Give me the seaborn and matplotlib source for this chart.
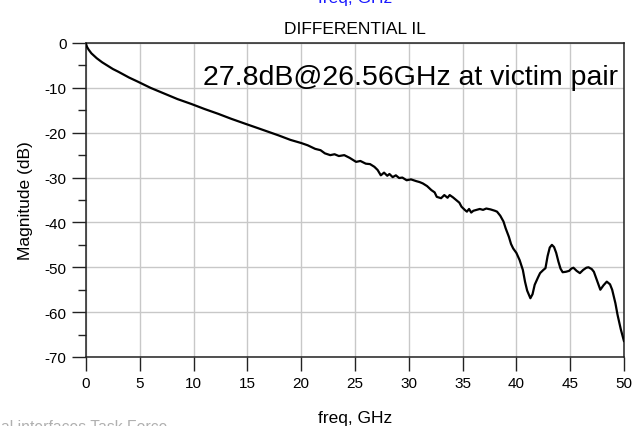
import matplotlib
matplotlib.use("Agg")
import matplotlib.pyplot as plt
import seaborn as sns
import pandas as pd
from matplotlib.ticker import MultipleLocator

freq_ghz = [0, 0.1, 0.25, 0.5, 1, 1.5, 2.5, 3, 4, 4.8, 6, 7.3, 8.5, 9.8, 11, 12.3,
            13.5, 14.8, 16, 17.9, 19, 20, 20.6, 21.3, 21.8, 22.2, 22.7, 23.1, 23.5,
            24, 24.5, 25.1, 25.5, 26, 26.4, 26.8, 27.1, 27.4, 27.7, 28.0, 28.2, 28.5,
            28.8, 29.1, 29.4, 29.8, 30.2, 30.7, 31.0, 31.3, 31.7, 32.1, 32.4, 32.6,
            33.0, 33.3, 33.6, 33.8, 34.1, 34.4, 34.7, 34.9, 35.2, 35.4, 35.6, 35.8,
            36.0, 36.3, 36.6, 36.9, 37.2, 37.6, 38.0, 38.2, 38.5, 38.8, 39.0, 39.3,
            39.5, 39.7, 40.0, 40.3, 40.6, 40.8, 41.0, 41.3, 41.5, 41.7, 42.0, 42.2,
            42.5, 42.7, 42.9, 43.1, 43.3, 43.5, 43.7, 43.9, 44.1, 44.3, 44.6, 44.9,
            45.1, 45.3, 45.6, 45.9, 46.2, 46.5, 46.7, 47.0, 47.2, 47.5, 47.8, 48.1,
            48.4, 48.7, 48.9, 49.2, 49.4, 49.7, 50.0]

magnitude_db = [-0.2, -0.9, -1.5, -2.3, -3.4, -4.3, -5.8, -6.4, -7.7, -8.6, -10.0,
                -11.3, -12.5, -13.6, -14.7, -15.8, -16.9, -18.0, -19.0, -20.6, -21.6,
                -22.3, -22.8, -23.6, -23.9, -24.6, -25.0, -24.8, -25.2, -25.0, -25.6,
                -26.5, -26.3, -26.9, -27.0, -27.6, -28.3, -29.5, -28.9, -29.6, -29.2,
                -29.9, -29.5, -30.1, -30.0, -30.6, -30.4, -30.8, -31.0, -31.3, -31.9,
                -32.8, -33.3, -34.3, -34.6, -33.9, -34.5, -33.9, -34.4, -35.0, -35.6,
                -36.5, -37.2, -37.6, -37.0, -37.8, -37.4, -37.2, -37.0, -37.2, -36.9,
                -37.1, -37.4, -37.6, -38.5, -39.8, -41.3, -43.2, -44.8, -45.8, -46.8,
                -48.4, -50.6, -53.2, -55.2, -56.9, -56.0, -53.9, -52.3, -51.3, -50.6,
                -50.2, -47.5, -45.6, -45.0, -45.5, -46.8, -48.7, -50.3, -51.1, -51.0,
                -50.8, -50.3, -50.1, -50.8, -51.3, -50.6, -50.1, -50.0, -50.4, -51.0,
                -53.0, -55.0, -54.0, -53.2, -53.8, -55.0, -58.0, -60.6, -63.8, -66.5]

x_ticks = [0, 5, 10, 15, 20, 25, 30, 35, 40, 45, 50]
y_ticks = [-70, -60, -50, -40, -30, -20, -10, 0]

assert len(freq_ghz) == len(magnitude_db)

sns.set_theme(style="white")
plt.rcParams['font.family'] = ['Liberation Sans', 'DejaVu Sans']
plt.rcParams['axes.unicode_minus'] = False

df = pd.DataFrame({"freq": freq_ghz, "mag": magnitude_db})

fig = plt.figure(figsize=(6.32, 4.27), dpi=100)
ax = fig.add_axes([86 / 632, 1 - 358 / 427, (624 - 86) / 632, (358 - 44) / 427])

sns.lineplot(data=df, x="freq", y="mag", ax=ax, color="black", linewidth=1.6, zorder=3)

ax.set_xlim(0, 50)
ax.set_ylim(-70, 0)
ax.set_xticks(x_ticks)
ax.set_yticks(y_ticks)
ax.yaxis.set_minor_locator(MultipleLocator(5))
ax.grid(True, which="major", color="#c8c8c8", linewidth=1.0, zorder=0)
for s in ax.spines.values():
    s.set_color("#222222")
    s.set_linewidth(1.1)

ax.tick_params(axis="both", which="major", direction="out", length=10, width=1,
               color="#222222", labelsize=11, labelcolor="black", pad=4,
               left=True, bottom=True)
ax.tick_params(axis="y", which="minor", direction="out", length=6, width=1,
               color="#222222", left=True)

ax.set_xlabel("freq, GHz", fontsize=12.5, labelpad=14, color="black")
ax.set_ylabel("Magnitude (dB)", fontsize=12.5, labelpad=8, color="black")
ax.set_title("DIFFERENTIAL IL", fontsize=12.5, pad=7, color="black")

ax.text((203 - 86) / (624 - 86), 1 - (85 - 44) / 314, "27.8dB@26.56GHz at victim pair",
        fontsize=20.5, color="black", transform=ax.transAxes, ha="left", va="baseline",
        zorder=4)

fig.text(355 / 632, 1 - 2.5 / 427, "freq, GHz", fontsize=12.5, color="#1a1aff",
         ha="center", va="baseline")
fig.text(167 / 632, 1 - 432 / 427, "al interfaces Task Force", fontsize=11.3,
         color="#b0b0b0", ha="right", va="baseline")

fig.savefig("out.png", dpi=100)
